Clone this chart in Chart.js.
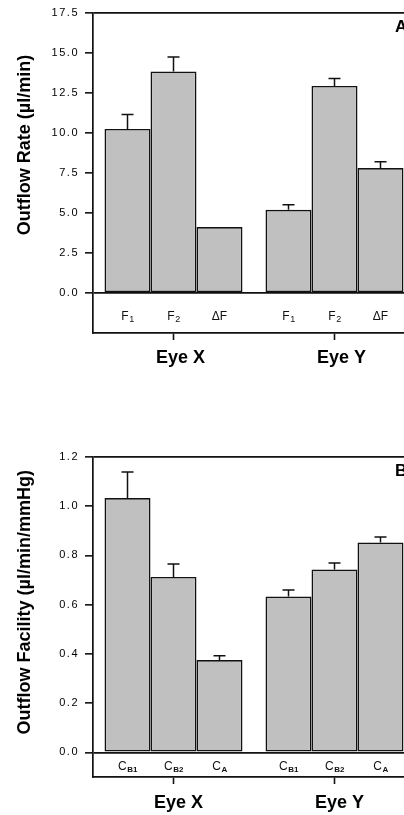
<!DOCTYPE html>
<html>
<head>
<meta charset="utf-8">
<script src="https://cdn.jsdelivr.net/npm/chart.js@4/dist/chart.umd.min.js"></script>
<style>
  html, body { margin: 0; padding: 0; background: #fff; overflow: hidden; width: 404px; height: 815px; }
  .panel { position: absolute; left: 0; width: 430px; height: 400px; }
  #wrapA { top: 0; }
  #wrapB { top: 415px; }
  canvas { display: block; }
</style>
</head>
<body>
<div class="panel" id="wrapA"><canvas id="chartA" width="430" height="400"></canvas></div>
<div class="panel" id="wrapB"><canvas id="chartB" width="430" height="400"></canvas></div>
<script>
// ---- shared categories ----
const eyes = ['Eye X', 'Eye Y'];

// ---- panel A: outflow rate (µl/min) ----
const rateSeries = ['F1', 'F2', 'ΔF'];
const rateLabelBase = ['F', 'F', 'ΔF'];
const rateLabelSub = ['1', '2', ''];
const rateF1 = [10.25, 5.2];
const rateF2 = [13.85, 12.94];
const rateDeltaF = [4.12, 7.81];
const rateF1Err = [0.9, 0.32];
const rateF2Err = [0.9, 0.47];
const rateDeltaFErr = [null, 0.39];
const rateTicks = [0, 2.5, 5, 7.5, 10, 12.5, 15, 17.5];

// ---- panel B: outflow facility (µl/min/mmHg) ----
const facSeries = ['CB1', 'CB2', 'CA'];
const facLabelBase = ['C', 'C', 'C'];
const facLabelSub = ['B1', 'B2', 'A'];
const facCB1 = [1.033, 0.633];
const facCB2 = [0.713, 0.743];
const facCA = [0.375, 0.853];
const facCB1Err = [0.106, 0.027];
const facCB2Err = [0.052, 0.026];
const facCAErr = [0.018, 0.022];
const facTicks = [0, 0.2, 0.4, 0.6, 0.8, 1.0, 1.2];

const INK = '#111';
const BAR_FILL = '#c0c0c0';
const SANS = '"Liberation Sans", Arial, sans-serif';

// Draws the panel decorations: y tick labels, bar sub-labels, error bars,
// rotated axis title and the panel letter.
const panelDecor = {
  id: 'panelDecor',
  afterDatasetsDraw(chart) {
    const o = chart.options.plugins.panelDecor;
    const ctx = chart.ctx;
    const y = chart.scales.y;
    const area = chart.chartArea;
    const zeroPx = y.getPixelForValue(0);

    // error bars (mean + SEM)
    ctx.save();
    ctx.strokeStyle = INK;
    ctx.lineWidth = 1.5;
    chart.data.datasets.forEach((ds, i) => {
      const meta = chart.getDatasetMeta(i);
      meta.data.forEach((bar, j) => {
        const e = ds.errors[j];
        if (e == null) return;
        const top = y.getPixelForValue(ds.data[j] + e);
        ctx.beginPath();
        ctx.moveTo(bar.x, bar.y);
        ctx.lineTo(bar.x, top);
        ctx.moveTo(bar.x - 6, top);
        ctx.lineTo(bar.x + 6, top);
        ctx.stroke();
      });
    });
    ctx.restore();

    // sub-labels under each bar, inside the frame below the zero line
    ctx.save();
    ctx.fillStyle = INK;
    ctx.textBaseline = 'middle';
    chart.data.datasets.forEach((ds, i) => {
      const meta = chart.getDatasetMeta(i);
      meta.data.forEach((bar) => {
        const base = ds.subBase, sub = ds.subSub;
        ctx.font = o.baseFont;
        const wb = ctx.measureText(base).width;
        ctx.font = o.subFont;
        const ws = sub ? ctx.measureText(sub).width : 0;
        const x0 = bar.x - (wb + ws) / 2;
        const ty = zeroPx + o.labelOffset;
        ctx.font = o.baseFont;
        ctx.textAlign = 'left';
        ctx.fillText(base, x0, ty);
        if (sub) {
          ctx.font = o.subFont;
          ctx.fillText(sub, x0 + wb + 0.5, ty + 3);
        }
      });
    });
    ctx.restore();

    // y tick labels (right aligned, widely spaced digits)
    ctx.save();
    ctx.fillStyle = '#000';
    ctx.font = '11px ' + SANS;
    ctx.letterSpacing = '1.5px';
    ctx.textAlign = 'right';
    ctx.textBaseline = 'middle';
    y.ticks.forEach(t => {
      ctx.fillText(t.value.toFixed(1), area.left - 14, y.getPixelForValue(t.value));
    });
    ctx.restore();

    // rotated axis title
    ctx.save();
    ctx.fillStyle = '#000';
    ctx.font = 'bold 18px ' + SANS;
    ctx.textAlign = 'center';
    ctx.textBaseline = 'middle';
    ctx.translate(25, y.getPixelForValue(o.titleMid));
    ctx.rotate(-Math.PI / 2);
    ctx.fillText(o.title, 0, 0);
    ctx.restore();

    // panel letter
    ctx.save();
    ctx.fillStyle = '#000';
    ctx.font = 'bold 17px ' + SANS;
    ctx.textAlign = 'left';
    ctx.textBaseline = 'middle';
    ctx.fillText(o.letter, 395, o.letterY);
    ctx.restore();
  }
};

function buildPanel(canvasId, cfg) {
  const datasets = cfg.values.map((vals, i) => ({
    label: cfg.series[i],
    data: vals,
    errors: cfg.errors[i],
    subBase: cfg.labelBase[i],
    subSub: cfg.labelSub[i],
    backgroundColor: BAR_FILL,
    borderColor: INK,
    borderWidth: 1.6,
    borderSkipped: false,
    categoryPercentage: 0.857,
    barPercentage: 1.0
  }));

  return new Chart(document.getElementById(canvasId), {
    type: 'bar',
    data: { labels: eyes, datasets },
    plugins: [panelDecor],
    options: {
      responsive: false,
      animation: false,
      events: [],
      layout: { padding: { top: cfg.padTop, right: 15, left: 0, bottom: 0 } },
      plugins: {
        legend: { display: false },
        tooltip: { enabled: false },
        panelDecor: {
          title: cfg.title,
          titleMid: cfg.titleMid,
          letter: cfg.letter,
          letterY: cfg.letterY,
          labelOffset: cfg.labelOffset,
          baseFont: cfg.baseFont,
          subFont: cfg.subFont
        }
      },
      scales: {
        x: {
          type: 'category',
          offset: true,
          afterFit: (s) => { s.height = cfg.xHeight; },
          grid: {
            offset: false,
            drawOnChartArea: false,
            drawTicks: true,
            tickLength: 7,
            tickColor: INK,
            tickWidth: 1.6,
            color: INK
          },
          border: { display: true, color: INK, width: 1.7 },
          ticks: {
            color: '#000',
            font: { family: SANS, size: 18, weight: 'bold' },
            padding: cfg.xPad,
            labelOffset: cfg.xLabelOffset,
            maxRotation: 0
          }
        },
        y: {
          type: 'linear',
          min: cfg.min,
          max: cfg.max,
          afterFit: (s) => { s.width = 93; },
          afterBuildTicks: (s) => { s.ticks = cfg.ticks.map(v => ({ value: v })); },
          grid: {
            drawTicks: true,
            tickLength: 8,
            tickColor: INK,
            tickWidth: 1.6,
            lineWidth: 1.7,
            color: (c) => (c.tick && (c.tick.value === 0 || c.tick.value === cfg.max)) ? INK : 'rgba(0,0,0,0)'
          },
          border: { display: true, color: INK, width: 1.7 },
          ticks: { display: false }
        }
      }
    }
  });
}

buildPanel('chartA', {
  series: rateSeries,
  values: [rateF1, rateF2, rateDeltaF],
  errors: [rateF1Err, rateF2Err, rateDeltaFErr],
  labelBase: rateLabelBase,
  labelSub: rateLabelSub,
  ticks: rateTicks,
  min: -2.5,
  max: 17.5,
  padTop: 13,
  xHeight: 67,
  xPad: 7,
  xLabelOffset: 7,
  title: 'Outflow Rate (µl/min)',
  titleMid: 9.25,
  letter: 'A',
  letterY: 27,
  labelOffset: 24,
  baseFont: '12px ' + SANS,
  subFont: '9px ' + SANS
});

buildPanel('chartB', {
  series: facSeries,
  values: [facCB1, facCB2, facCA],
  errors: [facCB1Err, facCB2Err, facCAErr],
  labelBase: facLabelBase,
  labelSub: facLabelSub,
  ticks: facTicks,
  min: -0.1,
  max: 1.2,
  padTop: 42,
  xHeight: 38,
  xPad: 8,
  xLabelOffset: 5,
  title: 'Outflow Facility (µl/min/mmHg)',
  titleMid: 0.61,
  letter: 'B',
  letterY: 56,
  labelOffset: 14,
  baseFont: '12px ' + SANS,
  subFont: 'bold 8px ' + SANS
});
</script>
</body>
</html>
